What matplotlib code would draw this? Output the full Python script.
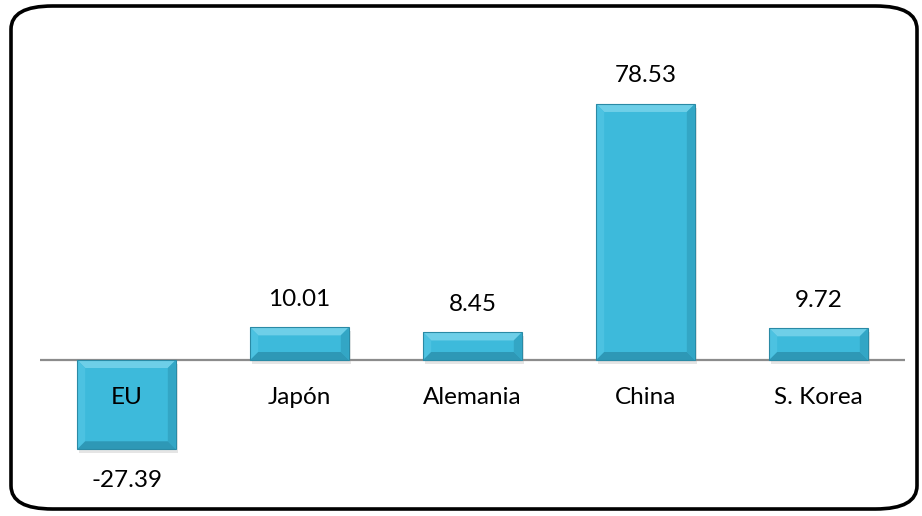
import numpy as np
import matplotlib.pyplot as plt
from matplotlib.patches import FancyBboxPatch, Polygon

paises = ['EU', 'Japón', 'Alemania', 'China', 'S. Korea']
valores = [-27.39, 10.01, 8.45, 78.53, 9.72]
etiquetas = ['-27.39', '10.01', '8.45', '78.53', '9.72']

plt.rcParams['font.family'] = ['Lato', 'DejaVu Sans']

fig = plt.figure(figsize=(9.22, 5.16), dpi=100)
W, H = 922, 516
# ejes: x de 40 a 905 px, y de 30 a 480 px (desde arriba)
ax = fig.add_axes([40 / W, 1 - 480 / H, 865 / W, 450 / H])
y0, y1 = -(480 - 360) / 3.26, (360 - 30) / 3.26
ax.set_xlim(-0.5, 4.5)
ax.set_ylim(y0, y1)
ax.axis('off')

x = np.arange(len(paises))
ancho = 0.57
px_x = 5 / 865.0
px_y = (y1 - y0) / 450.0

# sombra
ax.bar(x + 2 * px_x, valores, ancho, bottom=-4 * px_y,
       color='#000000', alpha=0.10, zorder=1)
barras = ax.bar(x, valores, ancho, color='#3DBADB', zorder=3)
ax.axhline(0, color='#8c8c8c', lw=1.6, zorder=2)

b = 8
for r in barras:
    xl, yb = r.get_x(), r.get_y()
    xr, yt = xl + r.get_width(), yb + r.get_height()
    if yt < yb:
        yb, yt = yt, yb
    dx, dy = b * px_x, b * px_y
    caras = [
        ([(xl, yt), (xr, yt), (xr - dx, yt - dy), (xl + dx, yt - dy)], '#6ECFE8'),
        ([(xl, yb), (xl, yt), (xl + dx, yt - dy), (xl + dx, yb + dy)], '#4CC2E1'),
        ([(xr, yb), (xr, yt), (xr - dx, yt - dy), (xr - dx, yb + dy)], '#33A6C5'),
        ([(xl, yb), (xr, yb), (xr - dx, yb + dy), (xl + dx, yb + dy)], '#2E98B6'),
    ]
    for pts, c in caras:
        ax.add_patch(Polygon(pts, closed=True, color=c, lw=0, zorder=4))
    ax.add_patch(Polygon([(xl, yb), (xr, yb), (xr, yt), (xl, yt)], closed=True,
                         fill=False, ec='#2a8aa5', lw=0.8, zorder=5))

fs = 17.5
for i, (v, t) in enumerate(zip(valores, etiquetas)):
    if v >= 0:
        ax.text(i, v + 28 * px_y, t, ha='center', va='center', fontsize=fs, zorder=6)
    else:
        ax.text(i, v - 31 * px_y, t, ha='center', va='center', fontsize=fs, zorder=6)
    ax.text(i, -38 * px_y, paises[i], ha='center', va='center', fontsize=fs, zorder=6)

marco = FancyBboxPatch((11 / W, 7 / H), 906 / W, 503 / H,
                       boxstyle='round,pad=0,rounding_size=0.045',
                       transform=fig.transFigure, fill=False, ec='black', lw=2.6)
fig.patches.append(marco)

fig.savefig('out.png', dpi=100)
